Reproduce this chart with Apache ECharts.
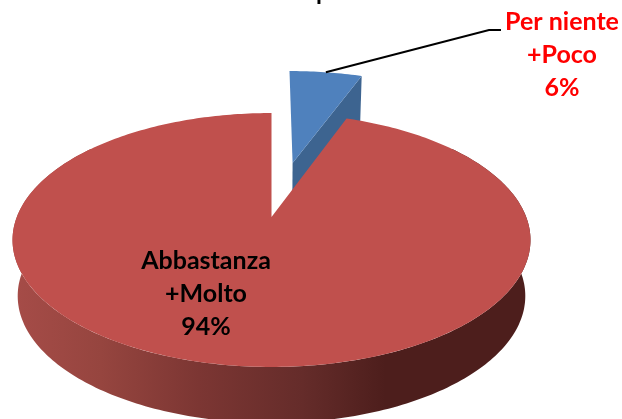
<!DOCTYPE html>
<html>
<head>
<meta charset="utf-8">
<title>Pie</title>
<script src="https://cdn.jsdelivr.net/npm/echarts@6/dist/echarts.min.js"></script>
<style>
  html, body { margin: 0; padding: 0; background: #fff; }
  #app { width: 622px; height: 419px; }
</style>
</head>
<body>
<div id="app"></div>
<script>
const categories = ["Per niente\n+Poco", "Abbastanza\n+Molto"];
const values = [5.6, 94.4];

// perspective disc -> screen, fitted to the picture
const APEX_X = 271.5;
const APEX_Y = 217;
const DISC_A = 254.7;
const DISC_B = 122.8;
const DISC_K = -0.181;
const THICKNESS = 56;
const BOTTOM_SHRINK = 0.98;
const EXPLODE = [[0.09, -0.478], [0, 0]];
const RADIUS = [1.036, 1];

const total = values.reduce((a, b) => a + b, 0);
const SANS = "Lato, Carlito, sans-serif";

function project(u, v, lower) {
  const w = 1 + DISC_K * v;
  const x = (DISC_A * u) / w;
  const y = APEX_Y + (DISC_B * v) / w;
  if (!lower) return [APEX_X + x, y];
  return [APEX_X + x * BOTTOM_SHRINK, y + THICKNESS];
}

function rimPoint(angle, off, r, lower) {
  const a = (angle * Math.PI) / 180;
  return project(off[0] + r * Math.sin(a), off[1] - r * Math.cos(a), lower);
}

function arc(from, to, off, r, lower) {
  const pts = [];
  const steps = Math.max(2, Math.ceil(Math.abs(to - from)));
  for (let i = 0; i <= steps; i++) {
    pts.push(rimPoint(from + ((to - from) * i) / steps, off, r, lower));
  }
  return pts;
}

function renderBlue(start, end, off, r) {
  const apexTop = project(off[0], off[1], false);
  const apexLow = project(off[0], off[1], true);
  return [
    {
      type: "polygon",
      shape: { points: [apexTop, rimPoint(end, off, r, false), rimPoint(end, off, r, true), apexLow] },
      style: { fill: "#3d6490" }
    },
    {
      type: "polygon",
      shape: { points: [apexTop].concat(arc(start, end, off, r, false)) },
      style: { fill: "#4f81bd" }
    },
    {
      type: "polyline",
      shape: { points: [rimPoint((start + end) / 2, off, r, false), [489, 30], [501, 30]] },
      style: { stroke: "#000", lineWidth: 2, fill: null }
    }
  ];
}

function renderRed(start, end, off, r) {
  const wallTop = arc(52, 308, off, r, false);
  const wallLow = arc(52, 308, off, r, true).reverse();
  return [
    {
      type: "polygon",
      shape: { points: wallTop.concat(wallLow) },
      style: {
        fill: {
          type: "linear", x: 0, y: 0, x2: 1, y2: 0,
          colorStops: [
            { offset: 0, color: "#a64c48" },
            { offset: 0.17, color: "#96453f" },
            { offset: 0.36, color: "#7c3633" },
            { offset: 0.56, color: "#652c2a" },
            { offset: 0.72, color: "#4d1e1c" },
            { offset: 1, color: "#4d1e1c" }
          ]
        }
      }
    },
    {
      type: "polygon",
      shape: { points: [project(off[0], off[1], false)].concat(arc(start, end, off, r, false)) },
      style: { fill: "#c0504d" }
    }
  ];
}

function renderSlice(params, api) {
  const i = params.dataIndex;
  let before = 0;
  for (let k = 0; k < i; k++) before += values[k];
  const start = (before / total) * 360;
  const end = start + (api.value(0) / total) * 360;
  const off = EXPLODE[i];
  const children = i === 0 ? renderBlue(start, end, off, RADIUS[i]) : renderRed(start, end, off, RADIUS[i]);
  children.push({
    type: "text",
    x: i === 0 ? 562 : 206,
    y: i === 0 ? 55 : 294,
    style: {
      text: categories[i] + "\n" + Math.round((api.value(0) / total) * 100) + "%",
      fill: i === 0 ? "#ff0000" : "#000000",
      font: "bold 25px " + SANS,
      lineHeight: 33,
      align: "center",
      verticalAlign: "middle"
    }
  });
  return { type: "group", children: children };
}

const chart = echarts.init(document.getElementById("app"), null, { renderer: "canvas" });
chart.setOption({
  backgroundColor: "#fff",
  animation: false,
  title: {
    text: "p",
    left: 316,
    top: -20,
    padding: 0,
    textStyle: { color: "#000", fontFamily: SANS, fontWeight: "bold", fontSize: 24 }
  },
  series: [
    {
      type: "custom",
      coordinateSystem: "none",
      silent: true,
      renderItem: renderSlice,
      data: values.map(v => [v])
    }
  ]
});
</script>
</body>
</html>
